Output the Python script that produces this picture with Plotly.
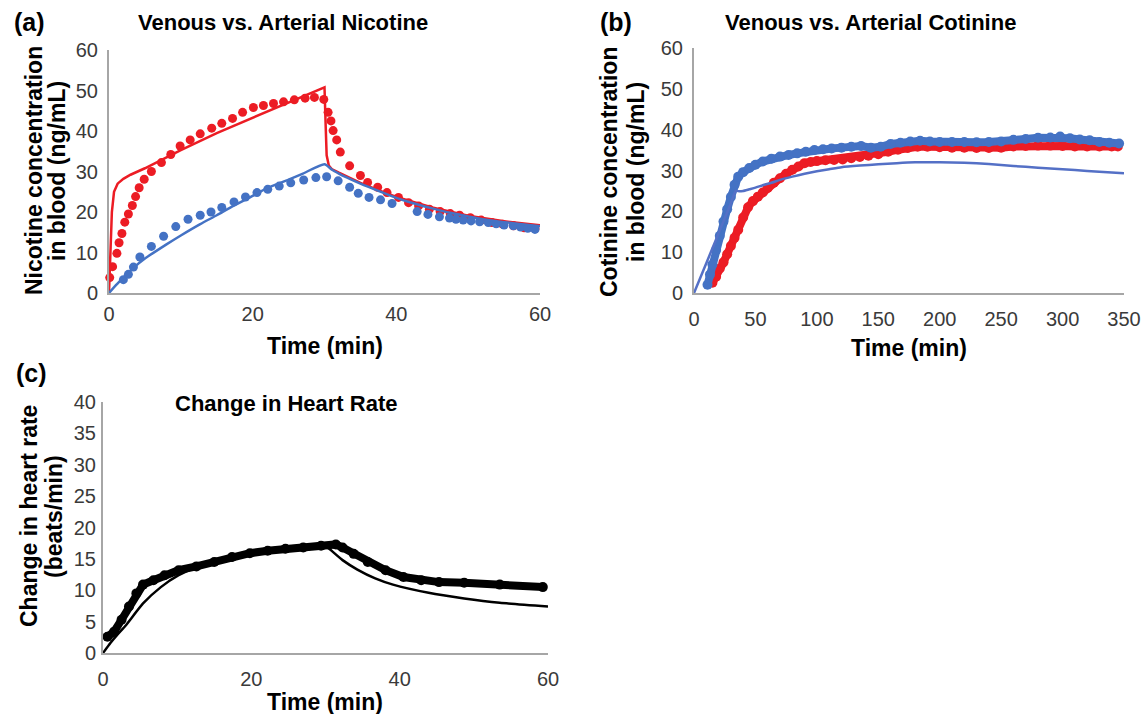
import plotly.graph_objects as go

# ---------------- Panel (a): nicotine ----------------
art_nic_t = [0.1, 0.5, 1.1, 1.4, 1.8, 2.2, 2.7, 3.25, 3.7, 4.2, 4.9, 5.9, 7.3, 8.6, 9.9, 11.3,
             12.7, 14.3, 15.7, 17.2, 18.6, 20.1, 21.5, 22.9, 24.3, 25.8, 27.3, 28.6, 29.9, 30.5,
             30.9, 31.2, 31.7, 32.2, 33.5, 35.0, 36.0, 37.4, 38.7, 40.3, 41.7, 43.1, 44.6, 46.1,
             47.5, 48.8, 50.3, 51.8, 53.3, 54.8, 56.3, 57.8, 59.3]
art_nic_v = [3.8, 6.5, 9.8, 12.4, 14.7, 17.5, 19.5, 21.6, 23.8, 26.0, 28.1, 30.0, 32.2, 34.2, 36.3,
             37.8, 39.3, 40.7, 41.9, 43.1, 44.6, 45.8, 46.3, 46.8, 47.2, 47.7, 48.1, 48.3, 47.8,
             44.6, 42.5, 40.1, 37.8, 34.8, 31.4, 29.0, 27.3, 26.1, 24.8, 23.6, 22.3, 21.5, 20.7,
             20.1, 19.6, 19.2, 18.6, 18.0, 17.4, 17.0, 16.6, 16.1, 15.9]
ven_nic_t = [2.0, 2.7, 3.4, 4.3, 5.9, 7.6, 9.3, 11.0, 12.7, 14.2, 15.7, 17.4, 19.0, 20.6, 22.1,
             23.7, 25.3, 27.1, 28.8, 30.3, 31.9, 33.5, 34.7, 36.2, 37.8, 39.4, 42.9, 44.4, 46.0,
             47.4, 48.3, 49.3, 50.4, 51.6, 52.8, 53.9, 55.0, 56.3, 57.3, 58.3, 59.3]
ven_nic_v = [3.3, 4.6, 6.4, 8.9, 11.5, 14.0, 16.4, 18.2, 19.2, 20.0, 21.1, 22.5, 23.7, 24.8, 25.6,
             26.4, 27.2, 27.9, 28.5, 28.7, 27.7, 26.1, 24.6, 23.6, 23.0, 22.1, 20.1, 19.4, 18.8,
             18.5, 18.2, 18.0, 17.8, 17.6, 17.4, 17.1, 16.8, 16.6, 16.3, 16.0, 15.7]
art_nic_model_t = [0, 0.2, 0.4, 0.7, 1.2, 2, 3, 5, 10, 15, 20, 25, 30, 30.15, 30.3, 30.6, 31,
                   32, 33, 35, 37.5, 40, 45, 50, 55, 60]
art_nic_model_v = [0, 10, 20, 25, 27, 28.2, 29.2, 30.8, 35.3, 39.5, 43.3, 47.0, 50.8, 42, 34, 31.5,
                   30.6, 29.7, 28.8, 27.2, 25.4, 23.7, 21.1, 19.1, 17.7, 16.7]
ven_nic_model_t = [0, 1, 2, 3.4, 5, 8, 10, 12.7, 15, 17.3, 20, 22, 25, 27, 30, 31, 32, 33, 35,
                   37.5, 40, 42.5, 45, 47.5, 50, 52.5, 55, 57.5, 60]
ven_nic_model_v = [0, 2.0, 3.8, 6.2, 8.5, 12.0, 14.2, 17.0, 19.2, 21.5, 24.0, 25.9, 28.0, 29.5,
                   31.8, 30.5, 29.5, 28.6, 27.0, 25.2, 23.5, 22.1, 20.9, 19.8, 18.9, 18.1, 17.5,
                   17.0, 16.5]

# ---------------- Panel (b): cotinine ----------------
ven_cot_t = [11, 13, 15, 18, 21, 24, 27, 30, 33, 36, 40, 45, 50, 56, 63, 70, 77, 84, 91, 98, 105,
             112, 120, 128, 136, 144, 152, 160, 168, 176, 184, 192, 200, 210, 220, 230, 240, 250,
             260, 270, 280, 290, 298, 306, 314, 322, 330, 338, 346]
ven_cot_v = [2.0, 4.5, 7.0, 10.5, 14.0, 17.5, 20.5, 23.5, 26.5, 28.5, 29.6, 30.6, 31.4, 32.2, 32.9,
             33.4, 33.8, 34.2, 34.6, 35.0, 35.2, 35.4, 35.6, 35.8, 36.0, 35.6, 35.8, 36.5, 36.8,
             37.1, 37.3, 37.1, 37.0, 37.0, 37.0, 36.9, 37.0, 37.1, 37.5, 37.7, 38.0, 38.1, 38.3,
             37.9, 37.6, 37.4, 37.0, 36.8, 36.6]
art_cot_t = [15, 18, 21, 24, 27, 30, 33, 36, 40, 44, 48, 52, 56, 60, 65, 70, 75, 80, 85, 90, 95,
             100, 107, 114, 121, 128, 135, 142, 150, 158, 166, 174, 182, 190, 200, 210, 220, 230,
             240, 250, 260, 270, 280, 290, 300, 310, 320, 330, 340, 345]
art_cot_v = [2.5, 4.0, 6.0, 7.5, 9.5, 11.5, 13.5, 15.5, 18.5, 21.0, 22.5, 23.6, 24.6, 25.7, 27.0,
             28.1, 29.2, 30.2, 31.0, 31.8, 32.1, 32.3, 32.5, 32.6, 32.7, 33.0, 33.3, 33.6, 34.0,
             34.6, 35.1, 35.5, 35.8, 35.8, 35.7, 35.6, 35.6, 35.5, 35.5, 35.6, 35.9, 36.0, 36.1,
             36.1, 36.0, 35.9, 35.9, 35.9, 35.9, 35.9]
cot_model_t = [0, 10, 20, 30, 34, 37, 40, 45, 50, 56, 63, 70, 80, 90, 100, 110, 120, 135, 150,
               165, 180, 200, 220, 240, 260, 280, 300, 320, 340, 350]
cot_model_v = [0, 7.3, 14.6, 22.0, 25.0, 24.9, 25.0, 25.4, 25.8, 26.4, 27.0, 27.7, 28.5, 29.2,
               29.8, 30.3, 30.8, 31.2, 31.5, 31.8, 32.0, 32.0, 31.9, 31.6, 31.1, 30.7, 30.3,
               29.9, 29.5, 29.3]

# ---------------- Panel (c): heart rate ----------------
hr_t = [0.6, 1.5, 2.5, 3.5, 4.5, 5.4, 6.8, 8.3, 10.2, 12.6, 15, 17.4, 19.8, 22.2, 24.6, 27,
        29.4, 31.4, 32.3, 33.8, 35.7, 38.1, 40.5, 42.9, 45.3, 48.7, 53.5, 59.3]
hr_v = [2.6, 3.4, 5.3, 7.4, 9.5, 10.9, 11.6, 12.4, 13.2, 13.8, 14.5, 15.3, 15.9, 16.3, 16.6,
        16.8, 17.1, 17.3, 16.8, 15.8, 14.5, 13.2, 12.1, 11.6, 11.3, 11.2, 10.9, 10.5]
hr_model_t = [0, 1, 2, 3, 5.4, 7.8, 10.2, 12.5, 15, 20, 25, 30, 30.5, 32.3, 34.3, 36.7, 39.1,
              43.9, 48.7, 53.5, 60]
hr_model_v = [0, 1.6, 3.0, 4.3, 7.9, 10.5, 12.4, 13.6, 14.5, 15.8, 16.6, 17.0, 16.6, 14.8, 13.3,
              11.9, 10.9, 9.6, 8.7, 8.0, 7.4]

RED = "#ec1c24"
BLUE = "#4472c4"
BLUE_LINE = "#5470c6"
FONT = "Liberation Sans, Arial, sans-serif"
W, H = 1143, 714

fig = go.Figure()

# panel a
fig.add_trace(go.Scatter(x=art_nic_t, y=art_nic_v, mode="markers", marker=dict(color=RED, size=9),
                         cliponaxis=False, xaxis="x", yaxis="y"))
fig.add_trace(go.Scatter(x=ven_nic_t, y=ven_nic_v, mode="markers", marker=dict(color=BLUE, size=9),
                         cliponaxis=False, xaxis="x", yaxis="y"))
fig.add_trace(go.Scatter(x=art_nic_model_t, y=art_nic_model_v, mode="lines",
                         line=dict(color=RED, width=2.5), xaxis="x", yaxis="y"))
fig.add_trace(go.Scatter(x=ven_nic_model_t, y=ven_nic_model_v, mode="lines",
                         line=dict(color=BLUE, width=2.5, shape="spline", smoothing=0.6),
                         xaxis="x", yaxis="y"))

# panel b
fig.add_trace(go.Scatter(x=art_cot_t, y=art_cot_v, mode="lines+markers",
                         line=dict(color=RED, width=8), marker=dict(color=RED, size=10),
                         cliponaxis=False, xaxis="x2", yaxis="y2"))
fig.add_trace(go.Scatter(x=ven_cot_t, y=ven_cot_v, mode="lines+markers",
                         line=dict(color=BLUE, width=8), marker=dict(color=BLUE, size=10),
                         cliponaxis=False, xaxis="x2", yaxis="y2"))
fig.add_trace(go.Scatter(x=cot_model_t, y=cot_model_v, mode="lines",
                         line=dict(color=BLUE_LINE, width=2.5, shape="spline", smoothing=0.5),
                         xaxis="x2", yaxis="y2"))

# panel c
fig.add_trace(go.Scatter(x=hr_t, y=hr_v, mode="lines+markers",
                         line=dict(color="black", width=8), marker=dict(color="black", size=10),
                         cliponaxis=False, xaxis="x3", yaxis="y3"))
fig.add_trace(go.Scatter(x=hr_model_t, y=hr_model_v, mode="lines",
                         line=dict(color="black", width=2.5, shape="spline", smoothing=0.5),
                         xaxis="x3", yaxis="y3"))


def ax(domain, rng, dtick, anchor, standoff):
    return dict(domain=domain, range=rng, dtick=dtick, anchor=anchor, showline=True,
                linecolor="#a6a6a6", linewidth=2, showgrid=False, zeroline=False, ticks="",
                ticklabelstandoff=standoff, fixedrange=True, automargin=False,
                tickfont=dict(family=FONT, size=20, color="#3a3a3a"))


def px(x):
    return x / W


def py(y):
    return 1 - y / H


fig.update_layout(
    width=W, height=H, showlegend=False, plot_bgcolor="white", paper_bgcolor="white",
    margin=dict(l=0, r=0, t=0, b=0, autoexpand=False),
    xaxis=ax([px(109), px(540)], [0, 60], 20, "y", 2),
    yaxis=ax([py(293), py(50)], [0, 60], 10, "x", 5),
    xaxis2=ax([px(694), px(1124)], [0, 350], 50, "y2", 7),
    yaxis2=ax([py(293), py(48)], [0, 60], 10, "x2", 5),
    xaxis3=ax([px(103), px(548)], [0, 60], 20, "y3", 7),
    yaxis3=ax([py(653), py(402)], [0, 40], 5, "x3", 1),
)

bold = lambda s: dict(family=FONT, size=s, color="black")
ann = [
    ("<b>(a)</b>", 29, 22, 25, 0), ("<b>(b)</b>", 616, 22, 25, 0), ("<b>(c)</b>", 31, 373, 25, 0),
    ("<b>Venous vs. Arterial Nicotine</b>", 283, 22, 22, 0),
    ("<b>Venous vs. Arterial Cotinine</b>", 870, 22, 22, 0),
    ("<b>Change in Heart Rate</b>", 286, 403, 22, 0),
    ("<b>Time (min)</b>", 325, 346, 23, 0),
    ("<b>Time (min)</b>", 909, 348, 23, 0),
    ("<b>Time (min)</b>", 325, 702, 23, 0),
    ("<b>Nicotine concentration</b>", 34, 171, 23, -90),
    ("<b>in blood (ng/mL)</b>", 57, 171, 23, -90),
    ("<b>Cotinine concentration</b>", 609, 172, 23, -90),
    ("<b>in blood (ng/mL)</b>", 636, 172, 23, -90),
    ("<b>Change in heart rate</b>", 29, 516, 23, -90),
    ("<b>(beats/min)</b>", 54, 517, 23, -90),
]
fig.update_layout(annotations=[
    dict(text=t, x=px(x), y=py(y), xref="paper", yref="paper", xanchor="center",
         yanchor="middle", showarrow=False, font=bold(s), textangle=a)
    for t, x, y, s, a in ann
])

fig.write_html("out.html", config={"displayModeBar": False},
               post_script="document.body.style.margin='0px';")
